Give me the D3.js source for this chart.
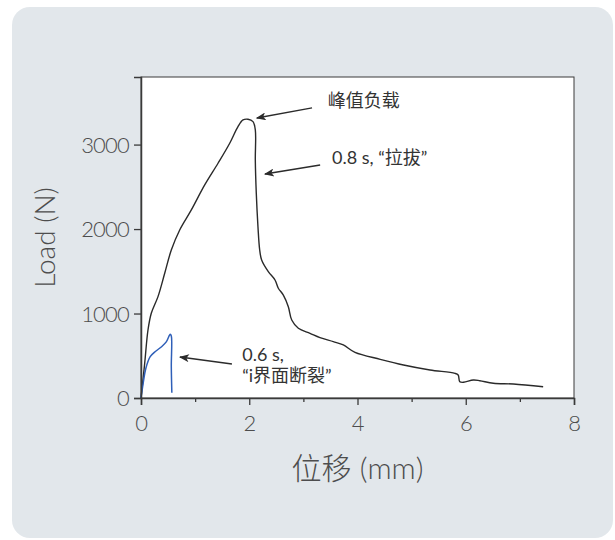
<!DOCTYPE html>
<html>
<head>
<meta charset="utf-8">
<script src="https://cdnjs.cloudflare.com/ajax/libs/d3/7.8.5/d3.min.js"></script>
<style>
    body { margin: 0; background: #ffffff; }
    svg { display: block; }
</style>
</head>
<body>
<div id="chart"></div>
<script>
// displacement (mm) and load (N)
var pulloutX = [0, 0.068, 0.129, 0.19, 0.314, 0.438, 0.56, 0.715, 0.93, 1.177, 1.423, 1.639, 1.792, 1.885, 1.977,
    2.069, 2.112, 2.112, 2.13, 2.161, 2.193, 2.229, 2.352, 2.476, 2.537, 2.63, 2.722, 2.785, 2.907, 3.123,
    3.307, 3.553, 3.738, 3.954, 4.42, 4.85, 5.34, 5.80, 5.86, 5.89, 5.96, 6.14, 6.26, 6.51, 6.88, 7.43];
var pulloutY = [0, 410, 805, 1003, 1200, 1476, 1752, 1989, 2226, 2522, 2779, 3016, 3213, 3292, 3300,
    3272, 3173, 2818, 2423, 2028, 1752, 1634, 1496, 1397, 1299, 1219, 1081, 923, 825, 766,
    715, 667, 628, 540, 458, 391, 332, 292, 272, 193, 186, 213, 205, 174, 166, 134];

var interfaceX = [0, 0.04, 0.09, 0.17, 0.26, 0.38, 0.47, 0.54, 0.56, 0.56, 0.57];
var interfaceY = [0, 174, 352, 489, 548, 607, 667, 754, 734, 371, 63];

var xTicks = [0, 2, 4, 6, 8];
var xMinorTicks = [1, 3, 5, 7];
var yTicks = [0, 1000, 2000, 3000];

var xTitle = "位移 (mm)";
var yTitle = "Load (N)";

// annotations: arrow tail -> tip, in data units
var notes = [
    { lines: ["峰值负载"], tx: 3.45, ty: 3445, from: [3.16, 3434], to: [2.14, 3315] },
    { lines: ["0.8 s, “拉拔”"], tx: 3.53, ty: 2771, from: [3.31, 2759], to: [2.29, 2652] },
    { lines: ["0.6 s,", "“i界面断裂”"], tx: 1.87, ty: 438, from: [1.68, 403], to: [0.72, 485] }
];

window.onload = function()
{
    main();
};

function main()
{
    var width = 615,
        height = 540,
        box = { left: 141, right: 574, top: 77, bottom: 398 },
        font = "Lato, 'Noto Sans CJK SC', sans-serif";

    var svg = d3.select("#chart").append("svg")
        .attr("width", width)
        .attr("height", height);

    // grey panel behind everything
    svg.append("rect")
        .attr("x", 12)
        .attr("y", 7)
        .attr("width", 601)
        .attr("height", 531)
        .attr("rx", 18)
        .attr("fill", "#e2e7eb");

    var x = d3.scaleLinear().domain([0, 8]).range([box.left, box.right]),
        y = d3.scaleLinear().domain([0, 3800]).range([box.bottom, box.top]);

    // white plotting area with thin frame
    svg.append("rect")
        .attr("x", box.left)
        .attr("y", box.top)
        .attr("width", box.right - box.left)
        .attr("height", box.bottom - box.top)
        .attr("fill", "#ffffff")
        .attr("stroke", "#3a3a3a")
        .attr("stroke-width", 1);

    // arrow head
    svg.append("defs").append("marker")
        .attr("id", "head")
        .attr("viewBox", "0 0 10 8")
        .attr("refX", 9)
        .attr("refY", 4)
        .attr("markerWidth", 11)
        .attr("markerHeight", 8)
        .attr("markerUnits", "userSpaceOnUse")
        .attr("orient", "auto")
        .append("path")
        .attr("d", "M0,0 L10,4 L0,8 L2.5,4 Z")
        .attr("fill", "#2b2b2b");

    // curves
    var lineFree = d3.line()
        .x(function(d) { return x(d[0]); })
        .y(function(d) { return y(d[1]); })
        .curve(d3.curveCatmullRom.alpha(0.5));

    svg.append("path")
        .datum(d3.zip(pulloutX, pulloutY))
        .attr("d", lineFree)
        .attr("fill", "none")
        .attr("stroke", "#2a2a2a")
        .attr("stroke-width", 1.4);

    svg.append("path")
        .datum(d3.zip(interfaceX, interfaceY))
        .attr("d", lineFree)
        .attr("fill", "none")
        .attr("stroke", "#2f5fb8")
        .attr("stroke-width", 1.5);

    // axes
    svg.append("g")
        .attr("transform", "translate(0," + box.bottom + ")")
        .call(d3.axisBottom(x).tickValues(xTicks).tickSize(7).tickPadding(10)
            .tickFormat(d3.format("d")));
    svg.append("g")
        .attr("transform", "translate(0," + box.bottom + ")")
        .call(d3.axisBottom(x).tickValues(xMinorTicks).tickSize(4).tickFormat(""))
        .select(".domain").remove();
    var yAxis = svg.append("g")
        .attr("transform", "translate(" + box.left + ",0)")
        .call(d3.axisLeft(y).tickValues(yTicks).tickSize(7).tickPadding(5)
            .tickFormat(d3.format("d")));

    svg.selectAll(".domain")
        .attr("stroke", "#3a3a3a")
        .attr("stroke-width", 1.5);
    svg.selectAll(".tick line")
        .attr("stroke", "#3a3a3a")
        .attr("stroke-width", 1.3);
    svg.selectAll(".tick text")
        .attr("fill", "#4d4d4d")
        .style("font-family", font)
        .style("font-weight", 300)
        .style("font-size", "22px");
    yAxis.selectAll(".tick text")
        .attr("dy", "0.36em")
        .style("letter-spacing", "-0.8px");

    // axis titles
    svg.append("text")
        .attr("x", (box.left + box.right) / 2)
        .attr("y", 479)
        .attr("text-anchor", "middle")
        .attr("fill", "#4d4d4d")
        .style("font-family", font)
        .style("font-weight", 300)
        .style("font-size", "30px")
        .text(xTitle);

    svg.append("text")
        .attr("transform", "translate(55," + ((box.top + box.bottom) / 2) + ") rotate(-90)")
        .attr("text-anchor", "middle")
        .attr("fill", "#4d4d4d")
        .style("font-family", font)
        .style("font-weight", 300)
        .style("font-size", "28px")
        .text(yTitle);

    // annotations with arrows
    notes.forEach(function(n)
    {
        svg.append("line")
            .attr("x1", x(n.from[0]))
            .attr("y1", y(n.from[1]))
            .attr("x2", x(n.to[0]))
            .attr("y2", y(n.to[1]))
            .attr("stroke", "#2b2b2b")
            .attr("stroke-width", 1.4)
            .attr("marker-end", "url(#head)");

        var t = svg.append("text")
            .attr("x", x(n.tx))
            .attr("y", y(n.ty))
            .attr("fill", "#333333")
            .style("font-family", font)
            .style("font-size", "18px");
        n.lines.forEach(function(s, i)
        {
            t.append("tspan")
                .attr("x", x(n.tx))
                .attr("dy", i ? 21 : 0)
                .text(s);
        });
    });
}
</script>
</body>
</html>
